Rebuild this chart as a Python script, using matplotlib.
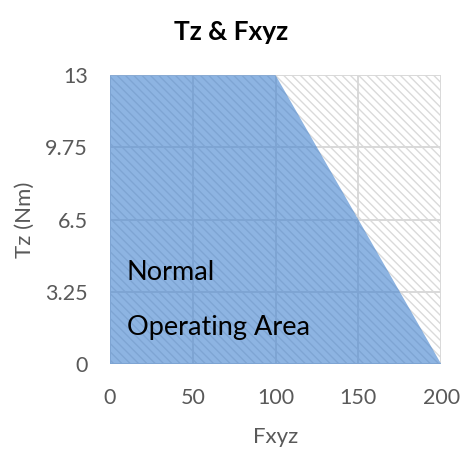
import matplotlib
matplotlib.use("Agg")
import matplotlib.pyplot as plt

# Data
fxyz = [0, 100, 200]
tz_limit = [13, 13, 0]
x_ticks = [0, 50, 100, 150, 200]
y_ticks = [0, 3.25, 6.5, 9.75, 13]
y_tick_labels = ["0", "3.25", "6.5", "9.75", "13"]

plt.rcParams['font.family'] = ['Lato', 'DejaVu Sans']
plt.rcParams['hatch.linewidth'] = 1.0

fig = plt.figure(figsize=(4.62, 4.5), dpi=100)
ax = fig.add_axes([0.238, 0.191, 0.717, 0.642])

# hatched background over full area
ax.fill_between([0, 200], [13, 13], 0, facecolor='white', edgecolor='#dadada',
                hatch='\\\\\\\\', linewidth=0, zorder=0.2)
ax.set_axisbelow(True)
ax.grid(True, color='#d9d9d9', linewidth=1.4)
ax.fill_between(fxyz, tz_limit, 0, facecolor='#4182cf', linewidth=0,
                alpha=0.6, zorder=2)

ax.set_xlim(0, 200)
ax.set_ylim(0, 13)
ax.set_xticks(x_ticks)
ax.set_yticks(y_ticks)
ax.set_yticklabels(y_tick_labels)
for s in ax.spines.values():
    s.set_visible(False)
ax.tick_params(axis='y', length=0, colors='#595959', labelsize=15.5, pad=16)
ax.tick_params(axis='x', length=0, colors='#595959', labelsize=15.5, pad=17)

ax.set_xlabel('Fxyz', color='#595959', fontsize=16, labelpad=14)
ax.set_ylabel('Tz (Nm)', color='#595959', fontsize=16, labelpad=7)
fig.suptitle('Tz & Fxyz', fontsize=19, y=0.955, color='black', fontweight='bold')

ax.text(10, 3.8, 'Normal', fontsize=19.5, color='black', zorder=5)
ax.text(10, 1.3, 'Operating Area', fontsize=19.5, color='black', zorder=5)

fig.savefig('out.png', dpi=100)
